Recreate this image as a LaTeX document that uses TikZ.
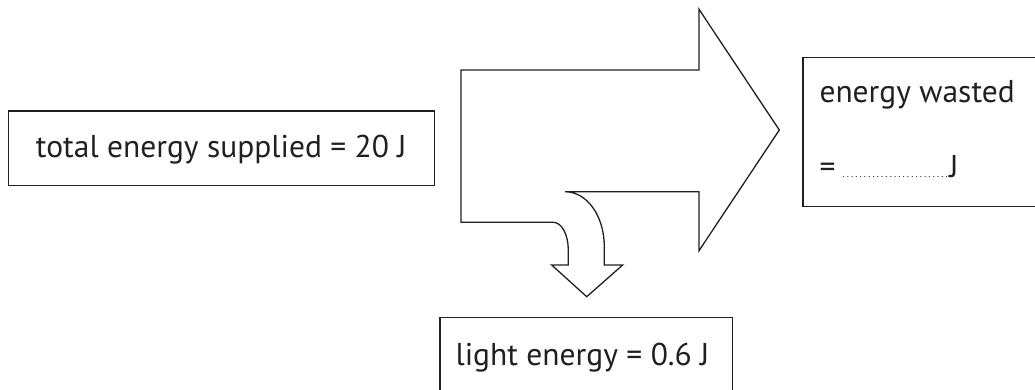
\documentclass[tikz,border=0pt]{standalone}
\usepackage{fontspec}
\setmainfont{PT Sans}
\definecolor{ink}{HTML}{231F20}
\begin{document}
\begin{tikzpicture}[x=1pt,y=-1pt,
  box/.style={draw=ink, line width=1.3pt, rectangle, inner sep=0pt},
  lbl/.style={text=ink, font=\fontsize{31.5}{36}\selectfont, inner sep=0pt},
  arrowshape/.style={draw=ink, line width=1.3pt, line join=miter}]
\useasboundingbox (0,0) rectangle (1035,390);
\clip (0,0) rectangle (1035,390);
% boxes
\node[box, minimum width=426pt, minimum height=74.7pt] (total) at (221.3,148.3) {};
\node[lbl, anchor=base] (totaltxt) at (221.3,158) {total energy supplied = 20 J};
\node[box, anchor=north west, minimum width=245pt, minimum height=148.7pt] (wasted) at (802.3,57) {};
\node[lbl, anchor=base west] (wastedtxt) at (819.3,102.5) {energy wasted};
\node[lbl, anchor=base west] (wastedval) at (819.3,178) {=\hspace{6pt}\hbox to 108pt{\fontsize{10}{10}\selectfont\leaders\hbox to 4.3pt{\hss.\hss}\hfill}J};
\node[box, anchor=north west, minimum width=292.4pt, minimum height=82pt] (light) at (439.3,316.7) {};
\node[lbl, anchor=base] (lighttxt) at (582.5,365) {light energy = 0.6 J};
% arrow
\coordinate (a1) at (461,70);
\coordinate (a2) at (699,70);
\coordinate (a3) at (699,9.3);
\coordinate (tip) at (779.3,130);
\coordinate (a5) at (699,250.7);
\coordinate (a6) at (699,191.7);
\coordinate (a7) at (565,191.7);
\coordinate (a8) at (604.3,246.7);
\coordinate (a9) at (604.3,265);
\coordinate (a10) at (622.7,265);
\coordinate (stip) at (586.7,296.7);
\coordinate (a12) at (551.7,265);
\coordinate (a13) at (568.3,265);
\coordinate (a14) at (568.3,250);
\coordinate (a15) at (553.3,222.3);
\coordinate (a16) at (461,222.3);
\draw[arrowshape] (a1) -- (a2) -- (a3) -- (tip) -- (a5) -- (a6) -- (a7)
  .. controls (587,191.7) and (604.3,216) .. (a8) -- (a9) -- (a10) -- (stip) -- (a12) -- (a13) -- (a14)
  .. controls (568.3,234.6) and (561.6,222.3) .. (a15) -- (a16) -- cycle;
\end{tikzpicture}
\end{document}
